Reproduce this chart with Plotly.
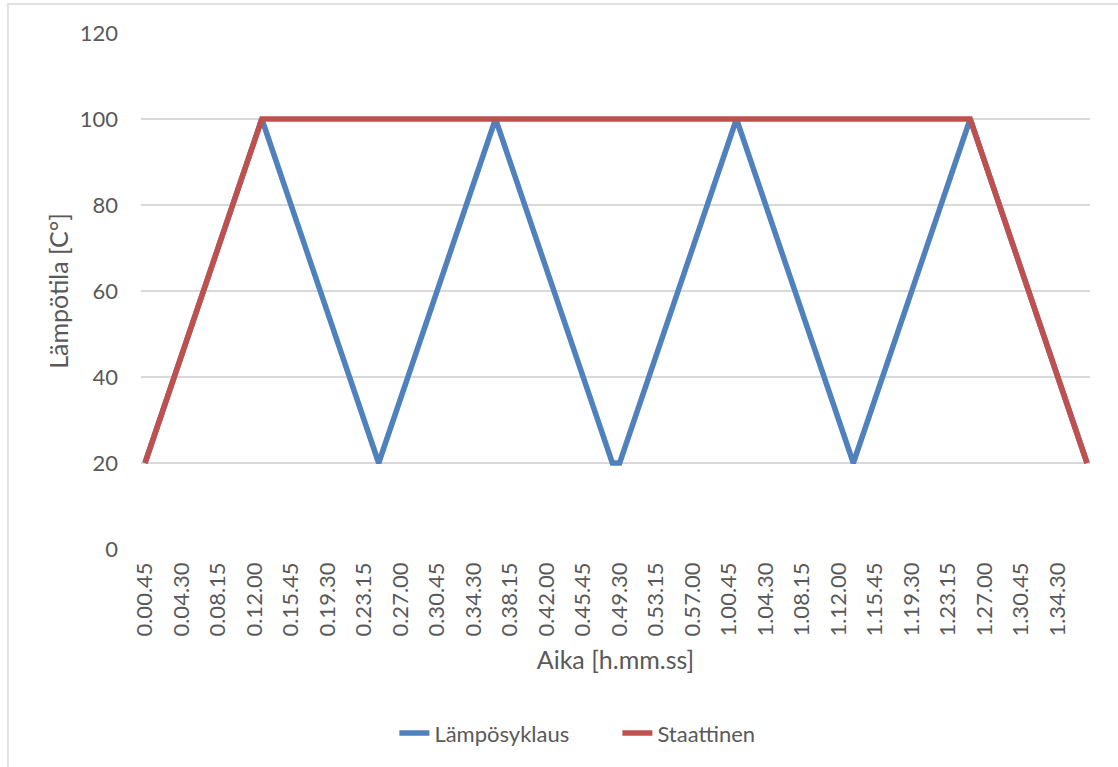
import plotly.graph_objects as go

# Category axis: time stamps every 45 s from 0.00.45 to 1.37.30 (h.mm.ss)
def fmt(sec):
    h, r = divmod(sec, 3600)
    m, s = divmod(r, 60)
    return f"{h}.{m:02d}.{s:02d}"

categories = [fmt(45 + 45 * i) for i in range(130)]
tick_labels = categories[::5]

# Series vertices (time, temperature °C)
sykli_time = ["0.00.45", "0.12.45", "0.24.45", "0.36.45", "0.48.45", "0.49.30",
              "1.01.30", "1.13.30", "1.25.30", "1.37.30"]
sykli_temp = [20, 100, 20, 100, 20, 20, 100, 20, 100, 20]

staat_time = ["0.00.45", "0.12.45", "1.25.30", "1.37.30"]
staat_temp = [20, 100, 100, 20]

FONT = "Lato"
TXT = "#595959"
GRID = "#d9d9d9"

fig = go.Figure()
fig.add_trace(go.Scatter(x=sykli_time, y=sykli_temp, mode="lines", name="Lämpösyklaus",
                         line=dict(color="#4F81BD", width=5.5)))
fig.add_trace(go.Scatter(x=staat_time, y=staat_temp, mode="lines", name="Staattinen",
                         line=dict(color="#C0504D", width=5.5)))

fig.update_layout(
    width=1118, height=767,
    margin=dict(l=141, r=28, t=33, b=218),
    paper_bgcolor="white", plot_bgcolor="white",
    font=dict(family=FONT, color=TXT, size=22),
    showlegend=True,
    legend=dict(orientation="h", x=0.267, xanchor="left", y=-0.357, yanchor="middle",
                font=dict(size=22, color=TXT), entrywidth=178, entrywidthmode="pixels",
                traceorder="normal"),
    xaxis=dict(
        type="category", categoryorder="array", categoryarray=categories,
        range=[-0.548, 129.41],
        tickmode="array", tickvals=tick_labels, ticktext=tick_labels,
        tickangle=-90, tickfont=dict(size=22, color=TXT),
        showgrid=False, zeroline=False, showline=False, ticks="",
        ticklabelstandoff=8,
        title=dict(text="Aika [h.mm.ss]", font=dict(size=25, color=TXT), standoff=15),
    ),
    yaxis=dict(
        range=[0, 120], tickvals=[0, 20, 40, 60, 80, 100, 120],
        tickfont=dict(size=22, color=TXT),
        showgrid=True, gridcolor=GRID, gridwidth=1.5, zeroline=False, showline=False, ticks="",
        ticklabelstandoff=22,
        title=dict(text="Lämpötila [C°]", font=dict(size=25, color=TXT), standoff=3),
    ),
    shapes=[
        dict(type="line", xref="paper", yref="paper", x0=-0.141, x1=1.1, y0=1.056, y1=1.056,
             line=dict(color=GRID, width=1.5)),
        dict(type="line", xref="paper", yref="paper", x0=-0.1402, x1=-0.1402, y0=1.056, y1=-0.45,
             line=dict(color=GRID, width=1.5)),
    ],
)

fig.write_html("out.html")
